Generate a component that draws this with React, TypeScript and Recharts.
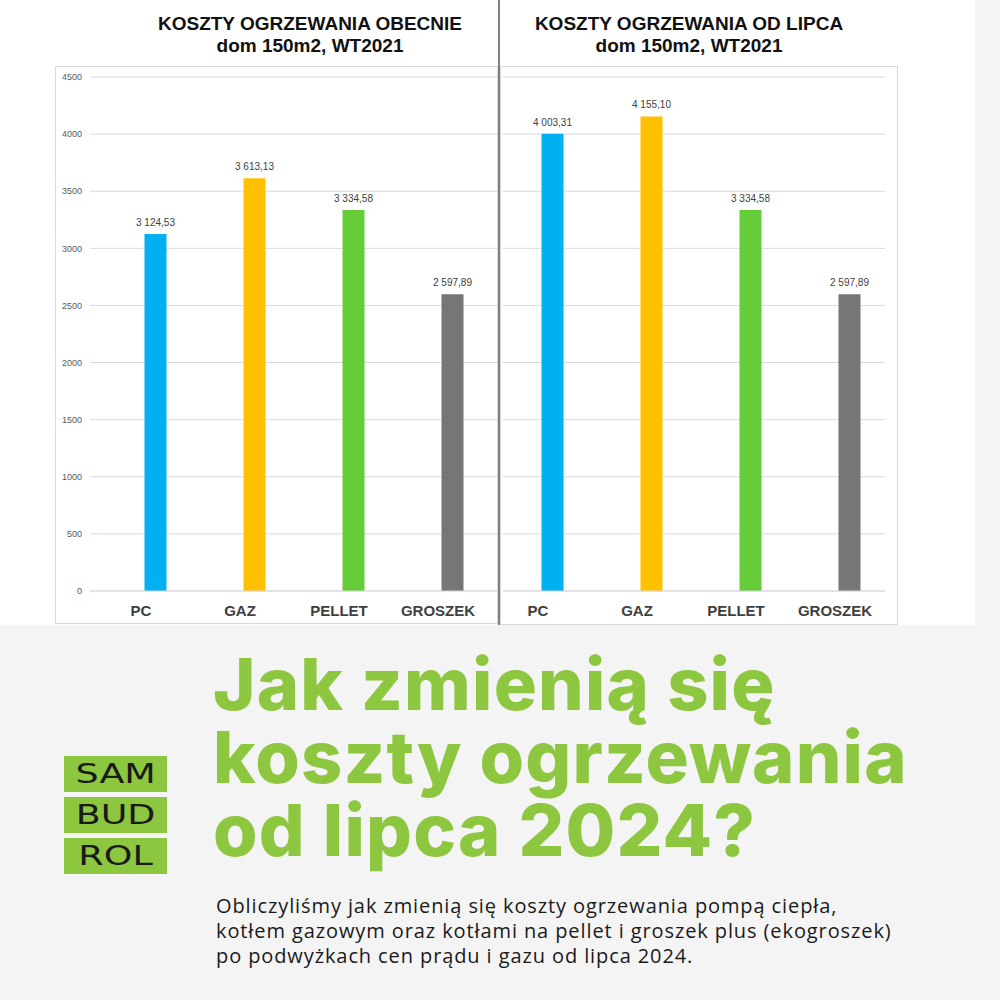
import React from "react";
import { BarChart, Bar, XAxis, YAxis, CartesianGrid, Cell, LabelList } from "recharts";

const categories = ["PC", "GAZ", "PELLET", "GROSZEK"];
const costsNow = [3124.53, 3613.13, 3334.58, 2597.89];
const costsFromJuly = [4003.31, 4155.1, 3334.58, 2597.89];
const barColors = ["#00b0f0", "#ffc000", "#66cc3a", "#767676"];
const yTicks = [0, 500, 1000, 1500, 2000, 2500, 3000, 3500, 4000, 4500];

const headingLines = ["Jak zmienią się", "koszty ogrzewania", "od lipca 2024?"];
const bodyLines = [
  "Obliczyliśmy jak zmienią się koszty ogrzewania pompą ciepła,",
  "kotłem gazowym oraz kotłami na pellet i groszek plus (ekogroszek)",
  "po podwyżkach cen prądu i gazu od lipca 2024.",
];

const GREEN = "#8dc63f";

// polish format: "3 124,53" (nbsp so the label doesn't wrap)
const fmt = (v: any) => {
  const n = Number(v);
  const [int, dec] = n.toFixed(2).split(".");
  const grouped = int.replace(/\B(?=(\d{3})+(?!\d))/g, "\u00a0");
  return `${grouped},${dec}`;
};

const buildData = (values: number[]) =>
  categories.map((name, i) => ({ name, value: values[i], color: barColors[i] }));

interface CostChartProps {
  values: number[];
  showYAxis: boolean;
  width: number;
  marginLeft: number;
  marginRight: number;
  padLeft: number;
  padRight: number;
}

function CostChart({ values, showYAxis, width, marginLeft, marginRight, padLeft, padRight }: CostChartProps) {
  const data = buildData(values);
  return (
    <BarChart
      width={width}
      height={559}
      data={data}
      margin={{ top: 11, right: marginRight, bottom: 0, left: marginLeft }}
    >
      <CartesianGrid vertical={false} stroke="#d9d9d9" />
      <XAxis
        dataKey="name"
        height={34}
        axisLine={{ stroke: "#d9d9d9" }}
        tickLine={false}
        padding={{ left: padLeft, right: padRight }}
        tick={{ fontSize: 15, fontWeight: 700, fill: "#404040", fontFamily: "Liberation Sans", dx: -14 }}
        tickMargin={8}
      />
      <YAxis
        hide={!showYAxis}
        width={showYAxis ? 90 : 0}
        domain={[0, 4500]}
        ticks={yTicks}
        axisLine={false}
        tickLine={false}
        tick={{ fontSize: 9, fill: "#595959", fontFamily: "Liberation Sans" }}
      />
      <Bar dataKey="value" barSize={22} isAnimationActive={false}>
        {data.map((d) => (
          <Cell key={d.name} fill={d.color} />
        ))}
        <LabelList
          dataKey="value"
          position="top"
          offset={8}
          formatter={fmt}
          style={{ fontSize: 10, fill: "#404040", fontFamily: "Liberation Sans" }}
        />
      </Bar>
    </BarChart>
  );
}

const titleStyle: React.CSSProperties = {
  position: "absolute",
  top: 13,
  width: 400,
  textAlign: "center",
  fontFamily: "Liberation Sans",
  fontWeight: 700,
  fontSize: 19,
  lineHeight: "22px",
  color: "#111",
};

export default function App() {
  return (
    <div
      style={{
        position: "absolute",
        left: 0,
        top: 0,
        width: 1000,
        height: 1000,
        background: "#f4f4f4",
        overflow: "hidden",
      }}
    >
      {/* white top panel */}
      <div style={{ position: "absolute", left: 0, top: 0, width: 975, height: 625, background: "#fff" }} />

      <div style={{ ...titleStyle, left: 110 }}>
        KOSZTY OGRZEWANIA OBECNIE
        <br />
        dom 150m2, WT2021
      </div>
      <div style={{ ...titleStyle, left: 489 }}>
        KOSZTY OGRZEWANIA OD LIPCA
        <br />
        dom 150m2, WT2021
      </div>

      {/* chart frames */}
      <div style={{ position: "absolute", left: 55, top: 66, width: 443, height: 558, border: "1px solid #d9d9d9", boxSizing: "border-box" }} />
      <div style={{ position: "absolute", left: 500, top: 66, width: 398, height: 559, border: "1px solid #d9d9d9", boxSizing: "border-box" }} />

      <div style={{ position: "absolute", left: 0, top: 66 }}>
        <CostChart values={costsNow} showYAxis width={499} marginLeft={0} marginRight={1} padLeft={15.5} padRight={-3.5} />
      </div>
      <div style={{ position: "absolute", left: 499, top: 66 }}>
        <CostChart values={costsFromJuly} showYAxis={false} width={400} marginLeft={4} marginRight={14} padLeft={-0.5} padRight={-13.5} />
      </div>

      {/* divider */}
      <div style={{ position: "absolute", left: 498, top: 0, width: 2, height: 625, background: "#808080" }} />

      {/* logo */}
      {["SAM", "BUD", "ROL"].map((t, i) => (
        <div
          key={t}
          style={{
            position: "absolute",
            left: 64,
            top: 756 + i * 41,
            width: 103,
            height: 36,
            background: GREEN,
            color: "#1a1a1a",
            fontFamily: "DejaVu Sans",
            fontSize: 27,
            lineHeight: "36px",
            textAlign: "center",
          }}
        >
          <span style={{ display: "inline-block", transform: "scaleX(1.35)" }}>{t}</span>
        </div>
      ))}

      {/* heading, one line per block so the boxes don't overlap */}
      {headingLines.map((line, i) => (
        <div
          key={line}
          style={{
            position: "absolute",
            left: 213,
            top: 647 + i * 73,
            height: 73,
            fontFamily: "Inter",
            fontWeight: 800,
            fontSize: 72,
            lineHeight: "73px",
            color: GREEN,
            letterSpacing: 1.2,
            whiteSpace: "nowrap",
          }}
        >
          {line}
        </div>
      ))}

      {/* body text */}
      {bodyLines.map((line, i) => (
        <div
          key={line}
          style={{
            position: "absolute",
            left: 216,
            top: 893 + i * 25,
            fontFamily: "Open Sans",
            fontSize: 20,
            lineHeight: "25px",
            letterSpacing: 0.9,
            color: "#1a1a1a",
            whiteSpace: "nowrap",
          }}
        >
          {line}
        </div>
      ))}
    </div>
  );
}
